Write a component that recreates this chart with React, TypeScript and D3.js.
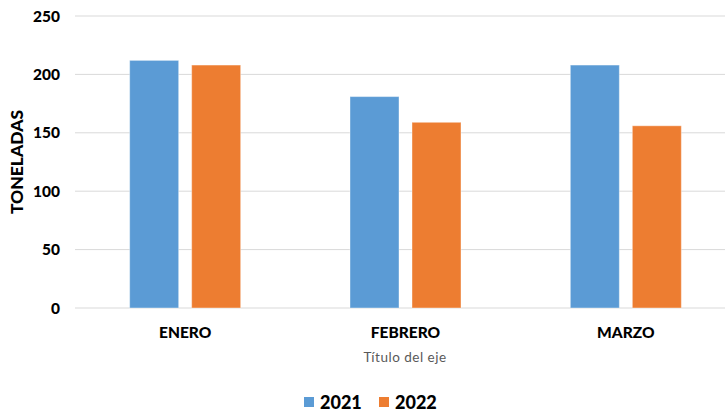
import { useRef, useEffect } from 'react';
import * as d3 from 'd3';

const categories = ['ENERO', 'FEBRERO', 'MARZO'];
const series = ['2021', '2022'];
const values2021 = [212, 181, 208];
const values2022 = [208, 159, 156];
const yTicks = [0, 50, 100, 150, 200, 250];
const colors = ['#5B9BD5', '#ED7D31'];

const width = 725;
const height = 411;
const font = 'Lato, "Open Sans", sans-serif';

export default function App() {
  const ref = useRef<SVGSVGElement>(null);

  useEffect(() => {
    const svg = d3.select(ref.current);
    svg.selectAll('*').remove();

    // Scales
    const x = d3.scaleBand().domain(categories).range([75, 736]).paddingInner(0).paddingOuter(0);
    const y = d3.scaleLinear().domain([0, 250]).range([308, 16]);
    const barW = 49;
    const gap = 13;

    // Gridlines
    svg.append('g')
      .selectAll('line')
      .data(yTicks)
      .join('line')
        .attr('x1', 75).attr('x2', width)
        .attr('y1', d => y(d)).attr('y2', d => y(d))
        .attr('stroke', '#d9d9d9')
        .attr('stroke-width', 1);

    // Y tick labels
    svg.append('g')
      .selectAll('text')
      .data(yTicks)
      .join('text')
        .attr('x', 60)
        .attr('y', d => y(d) + 5.5)
        .attr('text-anchor', 'end')
        .attr('font-family', font)
        .attr('font-weight', 900)
        .attr('font-size', 15.5)
        .attr('fill', '#000')
        .text(d => d);

    // Bars
    const allValues = [values2021, values2022];
    allValues.forEach((vals, si) => {
      svg.append('g')
        .selectAll('rect')
        .data(vals)
        .join('rect')
          .attr('x', (d, i) => {
            const c = (x(categories[i]) ?? 0) + x.bandwidth() / 2;
            return si === 0 ? c - gap / 2 - barW : c + gap / 2;
          })
          .attr('y', d => y(d))
          .attr('width', barW)
          .attr('height', d => y(0) - y(d))
          .attr('fill', colors[si])
          .attr('stroke', '#ffffff')
          .attr('stroke-opacity', 0.4)
          .attr('stroke-width', 1);
    });

    // Category labels
    svg.append('g')
      .selectAll('text')
      .data(categories)
      .join('text')
        .attr('x', d => (x(d) ?? 0) + x.bandwidth() / 2)
        .attr('y', 338)
        .attr('text-anchor', 'middle')
        .attr('font-family', font)
        .attr('font-weight', 900)
        .attr('font-size', 15.5)
        .attr('fill', '#000')
        .text(d => d);

    // X axis title
    svg.append('text')
      .attr('x', 405)
      .attr('y', 362)
      .attr('text-anchor', 'middle')
      .attr('font-family', font)
      .attr('font-size', 13.5)
      .attr('letter-spacing', 0.5)
      .attr('fill', '#595959')
      .text('Título del eje');

    // Y axis title
    svg.append('text')
      .attr('transform', 'translate(23, 162) rotate(-90)')
      .attr('text-anchor', 'middle')
      .attr('font-family', font)
      .attr('font-weight', 900)
      .attr('font-size', 17.5)
      .attr('fill', '#000')
      .text('TONELADAS');

    // Legend
    const legendX = [304, 379];
    const legend = svg.append('g')
      .selectAll('g')
      .data(series)
      .join('g')
        .attr('transform', (d, i) => `translate(${legendX[i]}, 397)`);
    legend.append('rect')
      .attr('width', 10).attr('height', 10)
      .attr('fill', (d, i) => colors[i]);
    legend.append('text')
      .attr('x', 16)
      .attr('y', 11.5)
      .attr('font-family', font)
      .attr('font-weight', 900)
      .attr('font-size', 18)
      .attr('fill', '#000')
      .text(d => d);
  }, []);

  return (
    <svg
      ref={ref}
      width={width}
      height={height}
      style={{ position: 'absolute', left: 0, top: 0, background: '#fff' }}
    />
  );
}
